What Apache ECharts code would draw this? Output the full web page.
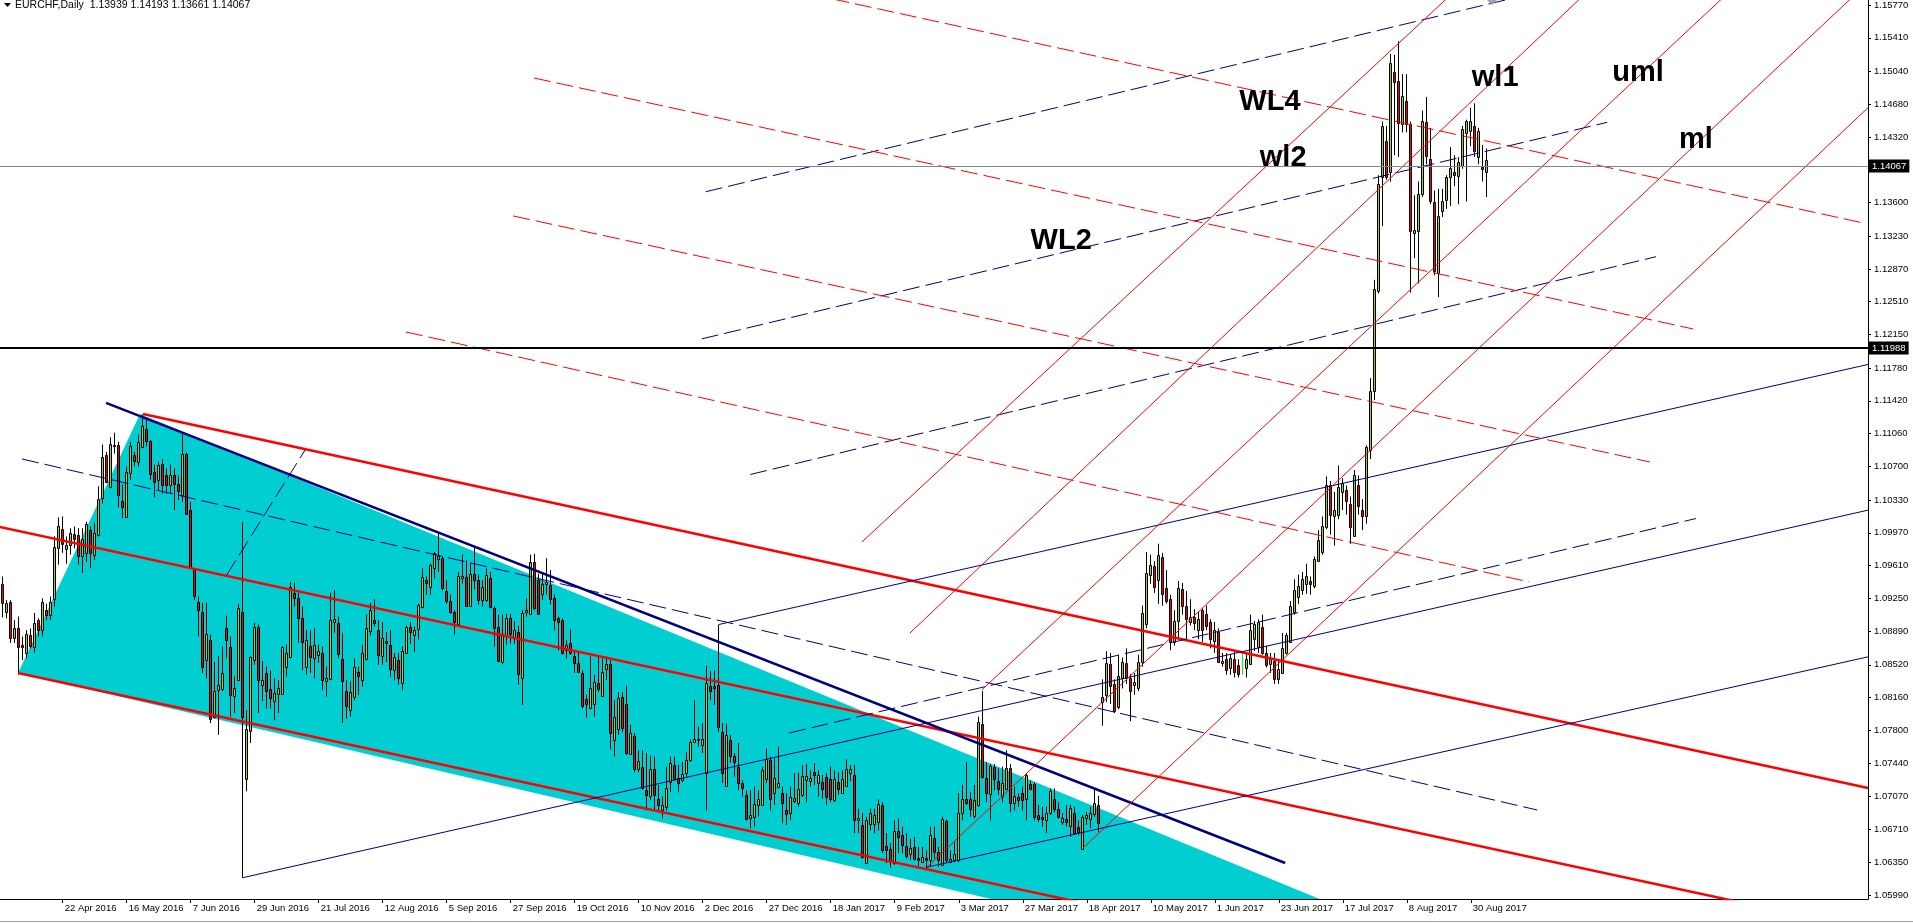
<!DOCTYPE html>
<html>
<head>
<meta charset="utf-8">
<title>EURCHF,Daily</title>
<script src="https://cdn.jsdelivr.net/npm/echarts@6/dist/echarts.min.js"></script>
<style>
  html, body { margin: 0; padding: 0; background: #fff; }
  #chart { width: 1913px; height: 923px; }
</style>
</head>
<body>
<div id="chart"></div>
<script>
// bar 0 = 31 Mar 2016, one bar per trading day. Candles in pips: [open, close, low, high]
const candles2016a = [
  [10945,10935,10925,10955],[10941,10920,10904,10949],[10910,10920,10903,10923],[10921,10881,10876,10923],
  [10881,10892,10876,10901],[10892,10872,10841,10905],[10874,10871,10857,10883],[10865,10886,10859,10890],
  [10885,10873,10870,10892],[10872,10898,10865,10909],[10901,10890,10883,10903],[10890,10921,10883,10925],
  [10912,10907,10901,10919],[10907,10921,10901,10927],[10924,10981,10916,10993],[10980,11004,10962,11014],
  [11001,10985,10975,11015],[10979,10984,10963,10993],[10984,10997,10973,11002],[10996,10990,10980,11004],
  [10995,10971,10962,11002],[10972,10990,10953,11002],[10975,11007,10965,11009],[11000,10975,10958,11004],
  [10973,10997,10967,11008],[10995,11034,10993,11048],[11035,11080,11029,11094],[11083,11053,11052,11086],
  [11047,11095,11046,11102],[11094,11092,11084,11107],[11094,11039,11025,11097],[11032,11025,11013,11050],
  [11014,11064,11014,11070],[11063,11092,11055,11097],[11083,11076,11070,11086],[11075,11097,11070,11105],
  [11091,11114,11090,11127],[11111,11098,11092,11121],[11098,11062,11055,11099],[11064,11053,11036,11072],
  [11055,11072,11044,11075],[11073,11050,11040,11078],[11060,11050,11040,11068],[11050,11061,11040,11072],
  [11060,11051,11022,11068],[11051,11043,11033,11060],[11039,11084,11031,11105],[11084,11018,11018,11085],
  [11022,10959,10958,11031],[10957,10928,10923,10958],[10921,10912,10883,10927],[10910,10849,10843,10920],
  [10857,10886,10837,10920],[10879,10792,10788,10885],[10795,10823,10793,10855],[10824,10830,10775,10862],
  [10825,10843,10823,10872],[10892,10879,10859,10906],[10872,10819,10795,10883],[10818,10827,10799,10839],
  [10835,10914,10834,10919],[10910,10795,10618,11009],[10726,10781,10713,10802],[10779,10860,10766,10861],
  [10857,10894,10852,10898],[10893,10835,10799,10896],[10830,10835,10812,10856],[10843,10823,10804,10850],
  [10825,10815,10804,10846],[10812,10821,10791,10837],[10820,10827,10799,10835],[10820,10871,10819,10872],
  [10850,10865,10839,10874],[10860,10938,10859,10943],[10931,10925,10916,10942],[10925,10903,10876,10931],
  [10903,10877,10846,10916],[10849,10879,10841,10890],[10873,10860,10843,10890],[10859,10874,10837,10892],
  [10863,10867,10854,10874],[10865,10835,10824,10872],[10834,10837,10817,10850],[10836,10901,10835,10931],
  [10899,10902,10887,10934],[10898,10864,10859,10905],[10858,10834,10788,10887],[10823,10807,10793,10835],
  [10802,10822,10795,10834],[10817,10849,10813,10859],[10844,10840,10819,10850],[10835,10865,10828,10874],
  [10858,10892,10857,10907],[10889,10912,10884,10920],[10901,10898,10894,10924],[10890,10863,10852,10901],
  [10862,10881,10852,10899],[10878,10876,10855,10888],[10874,10847,10839,10890],[10846,10861,10835,10865],
  [10857,10837,10830,10865]
];
const candles2016b = [
  [10832,10867,10824,10872],[10865,10893,10864,10895],[10893,10888,10875,10899],[10885,10890,10866,10894],
  [10891,10918,10880,10919],[10916,10948,10914,10958],[10945,10942,10929,10949],[10938,10962,10929,10963],
  [10958,10975,10947,10976],[10968,10971,10954,10998],[10969,10936,10934,10971],[10933,10922,10919,10945],
  [10922,10910,10908,10929],[10910,10899,10885,10912],[10897,10949,10894,10954],[10947,10949,10941,10973],
  [10948,10917,10916,10967],[10917,10952,10916,10963],[10952,10945,10935,10982],[10945,10923,10918,10951],
  [10923,10937,10916,10945],[10923,10951,10921,10958],[10947,10915,10914,10954],[10914,10892,10872,10916],
  [10893,10856,10855,10907],[10855,10886,10853,10907],[10885,10903,10874,10908],[10903,10886,10875,10908],
  [10883,10890,10875,10900],[10888,10842,10830,10895],[10837,10909,10808,10912],[10910,10912,10905,10925],
  [10908,10965,10907,10973],[10965,10914,10912,10974],[10945,10908,10907,10952],[10930,10941,10923,10952],
  [10941,10943,10929,10969],[10940,10924,10918,10956],[10925,10901,10890,10929],[10903,10899,10868,10905],
  [10901,10865,10863,10903],[10868,10874,10859,10879],[10876,10865,10863,10891],[10862,10854,10843,10868],
  [10854,10844,10843,10865],[10843,10807,10804,10846],[10814,10809,10794,10819],[10804,10826,10803,10861],
  [10809,10833,10795,10841],[10832,10825,10822,10861],[10818,10844,10817,10859],[10847,10853,10835,10861],
  [10853,10777,10759,10857],[10769,10795,10751,10813],[10781,10815,10775,10822],[10817,10782,10778,10822],
  [10809,10755,10753,10829],[10754,10777,10753,10786],[10774,10738,10734,10777],[10738,10746,10734,10758],
  [10740,10717,10715,10758],[10714,10709,10692,10755],[10708,10737,10703,10752],[10738,10709,10692,10751],
  [10705,10698,10691,10720],[10692,10698,10683,10707],[10696,10717,10692,10740],[10723,10744,10712,10751],
  [10742,10727,10725,10751],[10728,10722,10712,10742],[10725,10732,10723,10745],[10733,10747,10729,10756],
  [10747,10767,10745,10770],[10767,10770,10766,10813],[10769,10770,10762,10784],[10764,10770,10755,10788],
  [10733,10832,10692,10851],[10829,10823,10813,10845],[10829,10826,10808,10846],[10830,10784,10778,10896],
  [10778,10733,10722,10788],[10719,10775,10718,10787],[10769,10752,10744,10775],[10752,10745,10729,10755],
  [10740,10722,10714,10766],[10722,10717,10707,10725],[10709,10682,10681,10714],[10684,10687,10672,10714],
  [10685,10699,10674,10718],[10698,10704,10685,10714],[10698,10736,10697,10740],[10726,10748,10722,10760],
  [10747,10704,10692,10751],[10711,10728,10698,10749],[10718,10722,10716,10762],[10711,10700,10678,10718],
  [10692,10688,10676,10711]
];
const candles2017a = [
  [10689,10707,10681,10718],[10702,10706,10700,10733],[10700,10716,10696,10734],[10709,10730,10707,10742],
  [10725,10730,10701,10743],[10724,10728,10718,10736],[10734,10731,10720,10744],[10722,10731,10707,10736],
  [10723,10715,10705,10731],[10729,10707,10698,10733],[10727,10705,10701,10740],[10703,10726,10701,10736],
  [10723,10716,10709,10734],[10711,10726,10711,10736],[10719,10738,10718,10748],[10733,10737,10724,10742],
  [10731,10681,10667,10742],[10681,10684,10667,10694],[10676,10641,10639,10689],[10634,10681,10634,10685],
  [10677,10689,10670,10694],[10677,10687,10667,10694],[10679,10699,10670,10704],[10698,10648,10645,10701],
  [10653,10648,10634,10667],[10650,10638,10629,10656],[10634,10669,10632,10681],[10669,10663,10645,10683],
  [10665,10654,10645,10674],[10653,10642,10639,10667],[10644,10651,10637,10661],[10652,10639,10637,10663],
  [10640,10637,10631,10652],[10635,10641,10634,10652],[10640,10637,10628,10648],[10637,10665,10631,10674],
  [10662,10646,10639,10674],[10646,10638,10630,10652],[10632,10682,10631,10685],[10680,10637,10634,10682],
  [10635,10639,10634,10648],[10637,10644,10635,10657],[10637,10689,10635,10711],[10689,10705,10681,10720],
  [10705,10700,10698,10745],[10704,10694,10685,10712],[10686,10703,10683,10720],[10698,10789,10696,10795],
  [10787,10729,10727,10823],[10728,10711,10701,10745],[10710,10741,10681,10743],[10740,10727,10714,10743],
  [10724,10716,10709,10738],[10708,10722,10701,10740],[10716,10739,10714,10758],[10739,10700,10690,10743],
  [10700,10708,10692,10718],[10707,10703,10696,10711],[10711,10703,10692,10718],[10705,10731,10681,10732],
  [10721,10716,10714,10725],[10721,10685,10681,10723],[10687,10682,10679,10698],[10685,10682,10674,10696],
  [10681,10689,10667,10696],[10689,10713,10687,10716],[10704,10693,10690,10716],[10693,10685,10683,10701],
  [10679,10684,10676,10689],[10683,10679,10674,10698],[10675,10695,10663,10698],[10689,10667,10665,10696],
  [10674,10668,10665,10681],[10650,10685,10649,10687],[10684,10687,10676,10690],[10682,10689,10672,10696],
  [10688,10700,10685,10716],[10698,10678,10668,10708]
];
const candles2017b = [
  [10811,10817,10785,10836],[10819,10854,10811,10867],[10853,10829,10809,10865],[10831,10801,10799,10836],
  [10806,10840,10803,10863],[10838,10855,10826,10860],[10854,10838,10831,10870],[10837,10823,10790,10842],
  [10830,10833,10819,10843],[10826,10855,10823,10863],[10855,10909,10850,10917],[10897,10953,10892,10976],
  [10951,10962,10941,10973],[10960,10938,10931,10966],[10945,10973,10919,10985],[10970,10930,10917,10975],
  [10936,10922,10919,10956],[10924,10877,10868,10929],[10877,10900,10873,10912],[10900,10936,10880,10944],
  [10935,10917,10907,10942],[10917,10902,10880,10933],[10899,10905,10895,10924],[10904,10898,10890,10913],
  [10890,10902,10880,10910],[10912,10890,10877,10914],[10908,10895,10890,10917],[10899,10880,10870,10902],
  [10878,10890,10865,10899],[10888,10855,10854,10892],[10854,10856,10850,10865],[10858,10846,10841,10865],
  [10848,10859,10841,10864],[10858,10844,10838,10868],[10852,10842,10838,10858],[10852,10852,10841,10865],
  [10848,10858,10838,10864],[10853,10890,10853,10907],[10880,10897,10867,10900],[10872,10899,10865,10902],
  [10893,10865,10863,10907],[10865,10852,10849,10873],[10853,10858,10843,10865],[10856,10836,10831,10865],
  [10836,10847,10831,10858],[10843,10870,10843,10887],[10865,10885,10863,10887],[10877,10917,10876,10922],
  [10910,10934,10907,10946],[10926,10939,10919,10951],[10934,10946,10929,10954],[10941,10950,10930,10963],
  [10944,10941,10929,10949],[10939,10968,10936,10971],[10966,10989,10965,11000],[10976,11005,10973,11015],
  [11003,11049,11001,11059],[11049,11017,10995,11054],[11015,11022,10983,11042],[11017,11047,11012,11071],
  [11042,11052,11022,11057],[11044,11032,11017,11049],[11029,11003,10985,11037],[10993,11061,10993,11066],
  [11050,11027,11017,11060],[11022,11015,11000,11034],[11015,11091,11007,11093],[11088,11153,11078,11167],
  [11153,11265,11143,11275],[11263,11380,11260,11390],[11388,11444,11334,11449],[11428,11388,11385,11444],
  [11393,11513,11383,11523],[11503,11492,11412,11522],[11493,11447,11410,11537],[11446,11477,11437,11501],
  [11472,11446,11437,11501],[11446,11329,11261,11449],[11326,11330,11299,11368],[11329,11369,11271,11383],
  [11369,11449,11366,11461],[11448,11411,11402,11476],[11408,11362,11358,11442],[11361,11285,11280,11373],
  [11282,11345,11256,11375],[11351,11362,11344,11375],[11363,11388,11353,11390],[11388,11398,11356,11421],
  [11394,11390,11378,11412],[11389,11405,11358,11410],[11400,11441,11397,11444],[11436,11449,11361,11451],
  [11439,11449,11422,11464],[11444,11417,11410,11469],[11410,11439,11402,11442],[11399,11397,11383,11423],
  [11393.9,11406.7,11366.1,11419.3]
];

// date labels, one every 16 bars from bar 0
const dateLabels = ["31 Mar 2016","22 Apr 2016","16 May 2016","7 Jun 2016","29 Jun 2016","21 Jul 2016",
  "12 Aug 2016","5 Sep 2016","27 Sep 2016","19 Oct 2016","10 Nov 2016","2 Dec 2016","27 Dec 2016",
  "18 Jan 2017","9 Feb 2017","3 Mar 2017","27 Mar 2017","18 Apr 2017","10 May 2017","1 Jun 2017",
  "23 Jun 2017","17 Jul 2017","8 Aug 2017","30 Aug 2017"];
const priceTicks = [1.05990,1.06350,1.06710,1.07070,1.07440,1.07800,1.08160,1.08520,1.08890,1.09250,
  1.09610,1.09970,1.10330,1.10700,1.11060,1.11420,1.11780,1.12150,1.12510,1.12870,1.13230,1.13600,
  1.13960,1.14320,1.14680,1.15040,1.15410,1.15770];

const lastQuote = { open: 1.13939, high: 1.14193, low: 1.13661, close: 1.14067 };
const levelLine = 1.11988;

// drawn objects, endpoints as [bar, price]
const wedgeFill = [[4.83, 1.08430], [35.33, 1.11276], [436.8, 1.04019]];
const navyTrend = [[26.83, 1.11397], [321.6, 1.06342]];
const channelUpper = [[36.08, 1.11276], [467.3, 1.07166]];
const channelMid = [[0, 1.10037], [467.3, 1.05607]];
const channelLower = [[4.83, 1.08430], [467.3, 1.04038]];
const fallingMedian = [[5.83, 1.10781], [384.6, 1.06924]];
const shortRay = [[57.0, 1.09507], [76.6, 1.10880]];
const forkMedian = [[61, 1.0618], [467.3, 1.10219]];
const forkUpper = [[180, 1.08962], [467.3, 1.11820]];
const forkLower = [[232, 1.06295], [467.3, 1.08607]];
const blueWarn1 = [[176.75, 1.13718], [382.8, 1.15890]];
const blueWarn2 = [[175.75, 1.12101], [402.1, 1.14481]];
const blueWarn3 = [[187.9, 1.10611], [414.3, 1.13004]];
const blueWarn4 = [[197.6, 1.07770], [424.3, 1.10127]];
const redWarn1 = [[202.8, 1.15891], [465.8, 1.13378]];
const redWarn2 = [[133.8, 1.14968], [423.6, 1.12210]];
const redWarn3 = [[128.6, 1.13452], [412.8, 1.10748]];
const redWarn4 = [[101.8, 1.12177], [382.6, 1.09430]];
const wl2Line = [[215.8, 1.09869], [364.3, 1.15935]];
const wl1Line = [[227.8, 1.08869], [397.6, 1.15935]];
const umlLine = [[245.75, 1.08243], [433.1, 1.15935]];
const mlLine = [[232, 1.06295], [467.3, 1.16018]];
const lowerFork = [[271, 1.06503], [467.3, 1.14641]];

const tagNames = ["WL4", "wl2", "wl1", "uml", "ml", "WL2"];
const tagAnchors = [[317.8, 1.14704], [321.1, 1.14089], [374.1, 1.14968], [409.8, 1.15023], [424.3, 1.14287], [265.6, 1.13177]];

const NAVY = "#000080";
const RED = "#ff0000";
const FONT = "Liberation Sans";

const candles = [].concat(candles2016a, candles2016b, candles2017a, candles2017b)
  .map((c, i) => [i, c[0] / 1e4, c[1] / 1e4, c[2] / 1e4, c[3] / 1e4]);

function renderCandle(params, api) {
  const i = api.value(0);
  const o = api.value(1), c = api.value(2), l = api.value(3), h = api.value(4);
  const pO = api.coord([i, o]), pC = api.coord([i, c]);
  const pL = api.coord([i, l]), pH = api.coord([i, h]);
  const cx = Math.floor(pO[0]);
  if (o === c) {
    return {
      type: "line",
      shape: { x1: cx + 0.5, y1: pH[1], x2: cx + 0.5, y2: pL[1] },
      style: { stroke: "#00ff00", lineWidth: 1 }
    };
  }
  const top = Math.round(Math.min(pO[1], pC[1])) + 0.5;
  const bot = Math.round(Math.max(pO[1], pC[1])) + 0.5;
  return {
    type: "group",
    children: [
      { type: "line", shape: { x1: cx + 0.5, y1: pH[1], x2: cx + 0.5, y2: pL[1] },
        style: { stroke: "#000", lineWidth: 1 } },
      { type: "rect", shape: { x: cx - 0.5, y: top, width: 2, height: Math.max(1, bot - top) },
        style: { fill: c > o ? "#9acd32" : RED, stroke: "#000", lineWidth: 1 } }
    ]
  };
}

function lineSeries(pts, color, width, dashed, extra) {
  return Object.assign({
    type: "line",
    data: pts,
    symbol: "none",
    clip: true,
    silent: true,
    animation: false,
    z: 4,
    lineStyle: { color: color, width: width, type: dashed ? [17, 6] : "solid" }
  }, extra || {});
}

const levelMarks = {
  symbol: ["none", "none"],
  silent: true,
  animation: false,
  data: [
    { yAxis: lastQuote.close, lineStyle: { color: "#778899", width: 1, type: "solid" },
      label: { position: "end", distance: 1, formatter: lastQuote.close.toFixed(5), color: "#fff",
               backgroundColor: "#000", padding: [2, 3, 1, 3], fontFamily: FONT, fontSize: 9.5 } },
    { yAxis: levelLine, lineStyle: { color: "#000", width: 2, type: "solid" },
      label: { position: "end", distance: 1, formatter: levelLine.toFixed(5), color: "#fff",
               backgroundColor: "#000", padding: [2, 3, 1, 3], fontFamily: FONT, fontSize: 9.5 } }
  ]
};

const chart = echarts.init(document.getElementById("chart"));
chart.setOption({
  animation: false,
  backgroundColor: "#fff",
  grid: { left: 0, top: 0, right: 45, bottom: 24, containLabel: false },
  xAxis: {
    type: "value",
    min: 0.325,
    max: 467.3,
    splitLine: { show: false },
    axisLine: { show: true, onZero: false, lineStyle: { color: "#000", width: 1 } },
    axisTick: { show: true, inside: false, length: 4, lineStyle: { color: "#000" },
                customValues: dateLabels.map((d, k) => k * 16) },
    axisLabel: {
      customValues: dateLabels.map((d, k) => k * 16),
      formatter: v => dateLabels[Math.round(v / 16)] || "",
      align: "left", margin: 4, padding: [0, 0, 0, 2],
      color: "#000", fontFamily: FONT, fontSize: 9.5
    }
  },
  yAxis: {
    type: "value",
    position: "right",
    min: 1.05946,
    max: 1.15825,
    scale: true,
    splitLine: { show: false },
    axisLine: { show: true, lineStyle: { color: "#000", width: 1 } },
    axisTick: { show: true, inside: false, length: 3, lineStyle: { color: "#000" }, customValues: priceTicks },
    axisLabel: {
      customValues: priceTicks,
      formatter: v => v.toFixed(5),
      margin: 6, color: "#000", fontFamily: FONT, fontSize: 9.5
    }
  },
  series: [
    {
      type: "custom",
      name: "wedge",
      silent: true,
      clip: true,
      z: 1,
      data: [wedgeFill[0]],
      encode: { x: 0, y: 1 },
      renderItem: (params, api) => ({
        type: "polygon",
        shape: { points: wedgeFill.map(p => api.coord(p)) },
        style: { fill: "#00ced1" }
      })
    },
    {
      type: "custom",
      name: "EURCHF",
      silent: true,
      clip: true,
      z: 3,
      data: candles,
      encode: { x: 0, y: [1, 2, 3, 4] },
      renderItem: renderCandle
    },
    lineSeries(channelUpper, RED, 2.5, false),
    lineSeries(channelMid, RED, 2.5, false),
    lineSeries(channelLower, RED, 2.5, false),
    lineSeries(navyTrend, NAVY, 2.5, false),
    lineSeries(fallingMedian, NAVY, 1, true),
    lineSeries(shortRay, NAVY, 1, true),
    lineSeries(forkMedian, NAVY, 1, false, { markLine: levelMarks }),
    lineSeries(forkUpper, NAVY, 1, false),
    lineSeries(forkLower, NAVY, 1, false),
    lineSeries(blueWarn1, NAVY, 1, true),
    lineSeries(blueWarn2, NAVY, 1, true),
    lineSeries(blueWarn3, NAVY, 1, true),
    lineSeries(blueWarn4, NAVY, 1, true),
    lineSeries(redWarn1, RED, 1, true),
    lineSeries(redWarn2, RED, 1, true),
    lineSeries(redWarn3, RED, 1, true),
    lineSeries(redWarn4, RED, 1, true),
    lineSeries(wl2Line, RED, 1, false),
    lineSeries(wl1Line, RED, 1, false),
    lineSeries(umlLine, RED, 1, false),
    lineSeries(mlLine, RED, 1, false),
    lineSeries(lowerFork, RED, 1, false),
    {
      type: "custom",
      name: "tags",
      silent: true,
      clip: false,
      z: 6,
      data: tagAnchors,
      encode: { x: 0, y: 1 },
      renderItem: (params, api) => {
        const p = api.coord([api.value(0), api.value(1)]);
        return {
          type: "text",
          x: p[0], y: p[1],
          style: { text: tagNames[params.dataIndex], fill: "#000",
                   font: "bold 29px " + FONT, align: "center", verticalAlign: "middle" }
        };
      }
    }
  ],
  graphic: [
    { type: "polygon", shape: { points: [[4, 3], [11, 3], [7.5, 7]] }, style: { fill: "#000" }, z: 10 },
    { type: "text", left: 15, top: 0,
      style: { text: "EURCHF,Daily  " + [lastQuote.open, lastQuote.high, lastQuote.low, lastQuote.close].map(v => v.toFixed(5)).join(" "),
               fill: "#000", font: "10.5px " + FONT }, z: 10 },
    { type: "polygon", shape: { points: [[1487, 0], [1497, 0], [1492, 5]] }, style: { fill: "#a0a0a0" }, z: 10 },
    { type: "line", shape: { x1: 0, y1: 921.5, x2: 1913, y2: 921.5 }, style: { stroke: "#a0a0a0", lineWidth: 1 }, z: 10 }
  ]
});
</script>
</body>
</html>
